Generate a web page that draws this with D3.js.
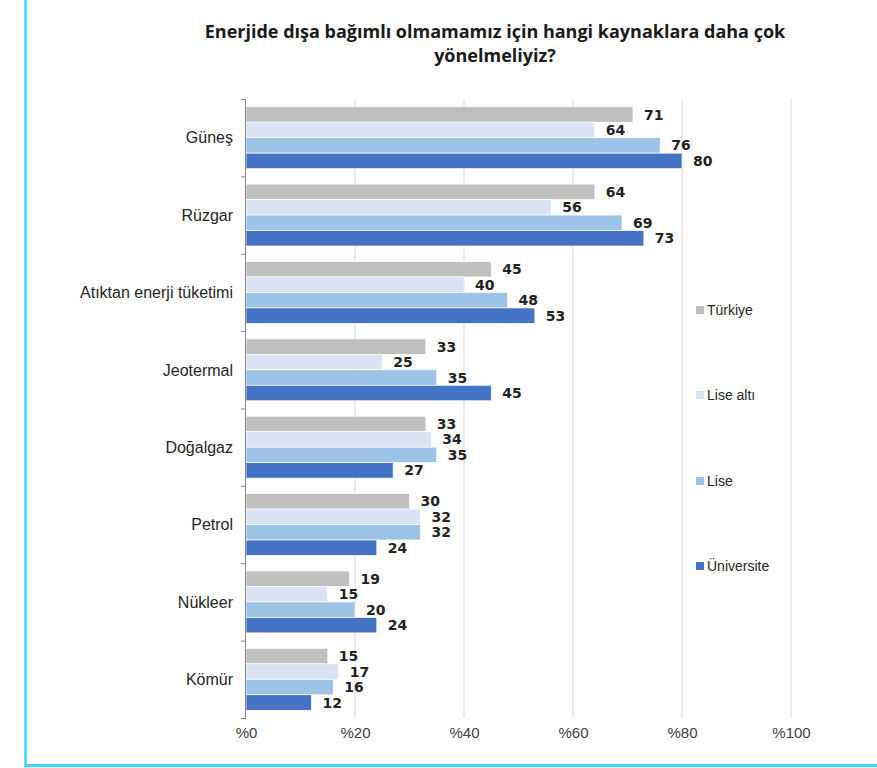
<!DOCTYPE html>
<html>
<head>
<meta charset="utf-8">
<script src="https://cdn.jsdelivr.net/npm/d3@7"></script>
<style>
  body { margin: 0; background: #fff; }
</style>
</head>
<body>
<div id="container"></div>
<script>
let categories = ["Güneş", "Rüzgar", "Atıktan enerji tüketimi", "Jeotermal", "Doğalgaz", "Petrol", "Nükleer", "Kömür"];
let seriesNames = ["Türkiye", "Lise altı", "Lise", "Üniversite"];
let turkiye = [71, 64, 45, 33, 33, 30, 19, 15];
let liseAlti = [64, 56, 40, 25, 34, 32, 15, 17];
let lise = [76, 69, 48, 35, 35, 32, 20, 16];
let universite = [80, 73, 53, 45, 27, 24, 24, 12];
let xTicks = [0, 20, 40, 60, 80, 100];
let colors = ["#bfbfbf", "#dae3f3", "#9dc3e6", "#4472c4"];

let w = 877;
let h = 768;
let plotLeft = 246, plotRight = 791, plotTop = 99, plotBottom = 718;

let viz = d3.select("#container")
  .append("svg")
    .attr("width", w)
    .attr("height", h)
;

// cyan frame on the left and bottom
viz.append("line").attr("x1", 25.5).attr("x2", 25.5).attr("y1", 0).attr("y2", 766)
  .attr("stroke", "#3dd8ff").attr("stroke-width", 2.5);
viz.append("line").attr("x1", 24).attr("x2", w).attr("y1", 765.5).attr("y2", 765.5)
  .attr("stroke", "#3dd8ff").attr("stroke-width", 3);

// title
let title = viz.append("text")
  .attr("text-anchor", "middle")
  .attr("font-family", "Open Sans")
  .attr("font-weight", "bold")
  .attr("font-size", 18)
  .attr("fill", "#1a1a1a");
title.append("tspan").attr("x", 495).attr("y", 38).text("Enerjide dışa bağımlı olmamamız için hangi kaynaklara daha çok");
title.append("tspan").attr("x", 495).attr("y", 62).text("yönelmeliyiz?");

let data = categories.map(function(c, i){
  return { category: c, values: [turkiye[i], liseAlti[i], lise[i], universite[i]] };
});

let xScale = d3.scaleLinear().domain([0, 100]).range([plotLeft, plotRight]);
let yScale = d3.scaleBand().domain(categories).range([plotTop, plotBottom]).paddingInner(0.2).paddingOuter(0.1);
let ySub = d3.scaleBand().domain(d3.range(4)).range([0, yScale.bandwidth()]);

// gridlines
viz.append("g").selectAll("line").data(xTicks.slice(1)).enter().append("line")
  .attr("x1", d => xScale(d)).attr("x2", d => xScale(d))
  .attr("y1", plotTop).attr("y2", plotBottom)
  .attr("stroke", "#d9d9d9").attr("stroke-width", 1);

// x axis labels
let xAxis = d3.axisBottom(xScale).tickValues(xTicks).tickSize(0).tickPadding(9).tickFormat(d => "%" + d);
let xAxisGroup = viz.append("g").attr("transform", "translate(0," + plotBottom + ")").call(xAxis);
xAxisGroup.select(".domain").remove();
xAxisGroup.selectAll("text").attr("font-family", "Liberation Sans").attr("font-size", 15).attr("fill", "#404040");

// bars
let groups = viz.append("g").selectAll("g").data(data).enter().append("g")
  .attr("transform", d => "translate(0," + yScale(d.category) + ")");

groups.selectAll("rect").data(d => d.values).enter().append("rect")
  .attr("x", xScale(0))
  .attr("y", (d, i) => ySub(i))
  .attr("width", d => xScale(d) - xScale(0))
  .attr("height", ySub.bandwidth())
  .attr("fill", (d, i) => colors[i])
  .attr("stroke", "#fff")
  .attr("stroke-width", 0.7);

groups.selectAll("text").data(d => d.values).enter().append("text")
  .attr("x", d => xScale(d) + 11)
  .attr("y", (d, i) => ySub(i) + ySub.bandwidth() / 2)
  .attr("dy", "0.36em")
  .attr("font-family", "DejaVu Sans")
  .attr("font-weight", "bold")
  .attr("font-size", 14)
  .attr("fill", "#222")
  .text(d => d);

// y axis with outward ticks at band boundaries
let yAxisGroup = viz.append("g");
yAxisGroup.append("line").attr("x1", plotLeft - 0.5).attr("x2", plotLeft - 0.5).attr("y1", plotTop).attr("y2", plotBottom)
  .attr("stroke", "#868686");
let boundaries = categories.map(c => yScale(c) - yScale.paddingOuter() * yScale.step()).concat([plotBottom]);
yAxisGroup.selectAll(".tick").data(boundaries).enter().append("line")
  .attr("class", "tick")
  .attr("x1", plotLeft - 5).attr("x2", plotLeft)
  .attr("y1", d => d + 0.5).attr("y2", d => d + 0.5)
  .attr("stroke", "#868686");
yAxisGroup.selectAll("text").data(categories).enter().append("text")
  .attr("x", 233)
  .attr("y", d => yScale(d) + yScale.bandwidth() / 2)
  .attr("dy", "0.36em")
  .attr("text-anchor", "end")
  .attr("font-family", "Liberation Sans")
  .attr("font-size", 16)
  .attr("fill", "#262626")
  .text(d => d);

// legend
let legendY = [310, 395, 481, 566];
let legend = viz.append("g").selectAll("g").data(seriesNames).enter().append("g")
  .attr("transform", (d, i) => "translate(696," + legendY[i] + ")");
legend.append("rect").attr("x", 0).attr("y", -4).attr("width", 8).attr("height", 8)
  .attr("fill", (d, i) => colors[i]);
legend.append("text").attr("x", 11).attr("y", 0).attr("dy", "0.36em")
  .attr("font-family", "Liberation Sans").attr("font-size", 14).attr("fill", "#262626")
  .text(d => d);
</script>
</body>
</html>
